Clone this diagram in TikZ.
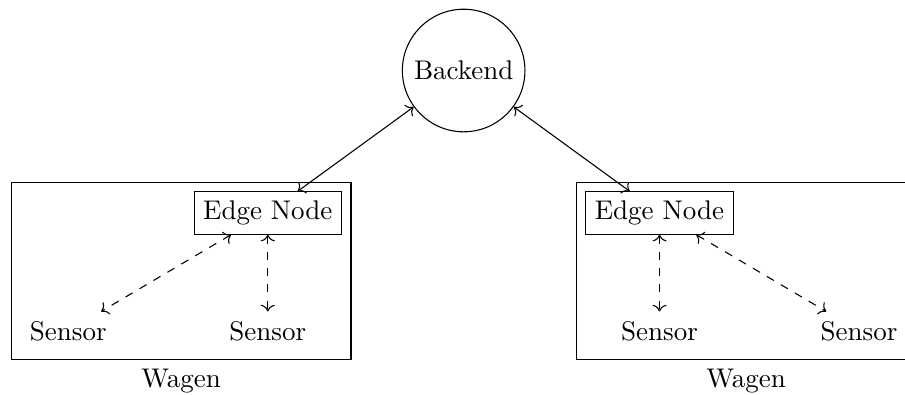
\documentclass[tikz,border=0pt]{standalone}
\usepackage{xcolor}
\usepackage{tikz}
\usetikzlibrary{shapes,arrows.meta,positioning,fit}

\begin{document}
\begin{tikzpicture}[
  node distance=1cm and 1.35cm,
  box/.style={draw},
  arr/.style={<->},
  darr/.style={<->, dashed}
]
  \useasboundingbox (-6.037,0.918) rectangle (5.746,-4.212);
  \node[circle, draw] (be) {Backend};
  \node[box] (en1) at (-2.55,-1.855) {Edge Node};
  \node[box] (en2) at (2.55,-1.855) {Edge Node};
  \node[below=of en1] (s1b) {Sensor};
  \node[left=of s1b] (s1a) {Sensor};
  \node[below=of en2] (s2a) {Sensor};
  \node[right=of s2a] (s2b) {Sensor};
  \node[box, fit=(en1)(s1a)(s1b), label=below:Wagen] (w1) {};
  \node[box, fit=(en2)(s2a)(s2b), label=below:Wagen] (w2) {};
  \draw[arr] (be) -- (en1);
  \draw[arr] (be) -- (en2);
  \draw[darr] (en1) -- (s1a);
  \draw[darr] (en1) -- (s1b);
  \draw[darr] (en2) -- (s2a);
  \draw[darr] (en2) -- (s2b);
\end{tikzpicture}
\end{document}
